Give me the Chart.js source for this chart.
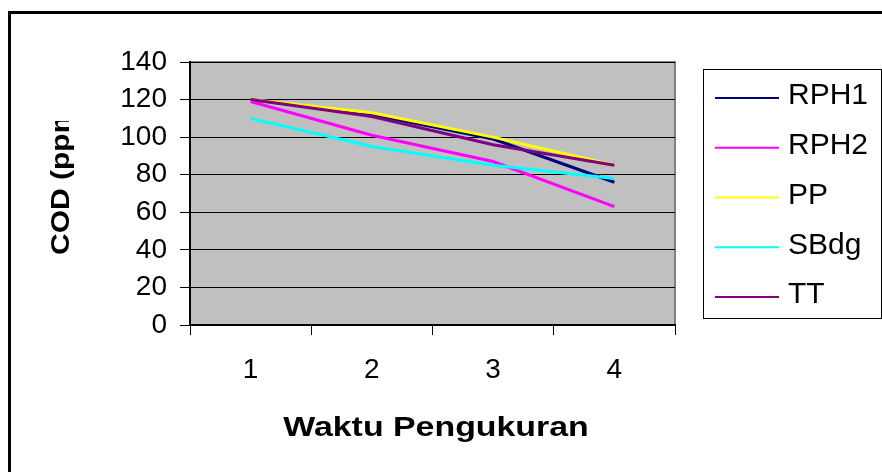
<!DOCTYPE html>
<html>
<head>
<meta charset="utf-8">
<script src="https://cdn.jsdelivr.net/npm/chart.js@4"></script>
<style>
  body{ margin:0; background:#fff; }
  canvas{ display:block; }
</style>
</head>
<body>
<canvas id="codChart" width="882" height="472"></canvas>
<script>
// data
const waktu = ["1","2","3","4"];
const rph1 = [120, 112, 99, 76];
const rph2 = [119, 101, 87, 63];
const pp   = [120, 113, 100, 85];
const sbdg = [110, 95, 85, 78];
const tt   = [120, 111, 96, 85];
const yTicks = [0, 20, 40, 60, 80, 100, 120, 140];

const FONT = "'Liberation Sans', Arial, sans-serif";

function ds(label, data, color, order){
  return { label, data, borderColor:color, backgroundColor:color,
    borderWidth:3, pointRadius:0, tension:0, order };
}

// frame, grey plot area, titles, boxed legend
const excelLook = {
  id:"excelLook",
  beforeDraw(chart){
    const {ctx, chartArea:a} = chart;
    ctx.save();
    ctx.fillStyle = "#fff";
    ctx.fillRect(0, 0, chart.width, chart.height);
    ctx.fillStyle = "#000";
    ctx.fillRect(8, 11, 3, chart.height - 11);
    ctx.fillRect(8, 11, chart.width - 8, 3);
    ctx.fillStyle = "#c0c0c0";
    ctx.fillRect(a.left, a.top, a.right - a.left, a.bottom - a.top);
    ctx.strokeStyle = "#808080";
    ctx.lineWidth = 2;
    ctx.strokeRect(a.left, a.top, a.right - a.left, a.bottom - a.top);
    ctx.restore();
  },
  afterDraw(chart){
    const {ctx} = chart;
    ctx.save();
    ctx.fillStyle = "#000";
    ctx.textBaseline = "middle";

    // x title
    ctx.save();
    ctx.font = "bold 28px " + FONT;
    ctx.textAlign = "center";
    ctx.translate(436, 428);
    ctx.scale(1.21, 1);
    ctx.fillText("Waktu Pengukuran", 0, 0);
    ctx.restore();

    // y title (cut off at the top like the original)
    ctx.save();
    ctx.beginPath();
    ctx.rect(0, 121, 200, chart.height);
    ctx.clip();
    ctx.font = "bold 25px " + FONT;
    ctx.textAlign = "left";
    ctx.translate(62, 255);
    ctx.rotate(-Math.PI / 2);
    ctx.scale(1.2, 1);
    ctx.fillText("COD (ppm)", 0, 0);
    ctx.restore();

    // legend
    ctx.fillStyle = "#fff";
    ctx.fillRect(703, 69, 178, 249);
    ctx.strokeStyle = "#000";
    ctx.lineWidth = 1;
    ctx.strokeRect(703.5, 69.5, 178, 249);
    ctx.font = "30px " + FONT;
    ctx.textAlign = "left";
    chart.data.datasets.forEach((d, i) => {
      const y = 98 + i * 49.75;
      ctx.strokeStyle = d.borderColor;
      ctx.lineWidth = 2;
      ctx.beginPath();
      ctx.moveTo(715, y);
      ctx.lineTo(779, y);
      ctx.stroke();
      ctx.fillStyle = "#000";
      ctx.fillText(d.label, 788, y - 2);
    });
    ctx.restore();
  }
};

new Chart(document.getElementById("codChart"), {
  type:"line",
  data:{
    labels:waktu,
    datasets:[
      ds("RPH1", rph1, "#000080", 5),
      ds("RPH2", rph2, "#ff00ff", 4),
      ds("PP",   pp,   "#ffff00", 3),
      ds("SBdg", sbdg, "#00ffff", 2),
      ds("TT",   tt,   "#800080", 1)
    ]
  },
  options:{
    responsive:false,
    animation:false,
    layout:{ padding:{ left:0, right:207, top:62, bottom:0 } },
    plugins:{ legend:{ display:false }, tooltip:{ enabled:false } },
    scales:{
      x:{
        offset:true,
        grid:{ offset:true, drawOnChartArea:false, color:"#000", tickLength:10 },
        border:{ color:"#000", width:2 },
        ticks:{ color:"#000", font:{ family:FONT, size:28 }, padding:18, maxRotation:0 },
        afterFit(s){ s.height = 147; }
      },
      y:{
        min:0, max:140,
        afterBuildTicks(s){ s.ticks = yTicks.map(v => ({ value:v })); },
        grid:{ color:"#000", lineWidth:1, tickLength:10 },
        border:{ color:"#000", width:2 },
        ticks:{ color:"#000", font:{ family:FONT, size:28 }, padding:13 },
        afterFit(s){ s.width = 190; }
      }
    }
  },
  plugins:[excelLook]
});
</script>
</body>
</html>
